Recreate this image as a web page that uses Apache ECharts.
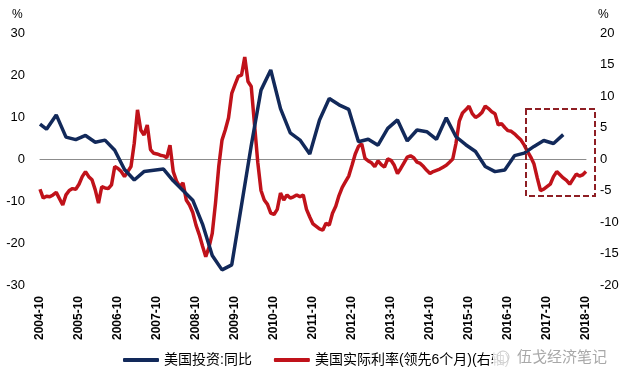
<!DOCTYPE html>
<html>
<head>
<meta charset="utf-8">
<script src="https://cdn.jsdelivr.net/npm/echarts@6/dist/echarts.min.js"></script>
<style>html,body{margin:0;padding:0;background:#fff;}#c{width:625px;height:381px;}</style>
</head>
<body>
<div id="c"></div>
<script>
// Monthly category axis: 2004-10 .. 2018-10
const startYear = 2004, startMonth = 10, monthCount = 169;
const categories = [];
for (let i = 0; i < monthCount; i++) {
  const t = (startMonth - 1) + i;
  const y = startYear + Math.floor(t / 12);
  const m = (t % 12) + 1;
  categories.push(y + '-' + (m < 10 ? '0' + m : m));
}

const seriesNames = ['美国投资:同比', '美国实际利率(领先6个月)(右轴)'];

// US investment YoY (quarterly, left axis)
const investDates = ['2004-10','2004-12','2005-03','2005-06','2005-09','2005-12','2006-03','2006-06','2006-09','2006-12',
  '2007-03','2007-06','2007-09','2007-12','2008-03','2008-06','2008-09','2008-12','2009-03','2009-06','2009-09','2009-12',
  '2010-03','2010-06','2010-09','2010-12','2011-03','2011-06','2011-09','2011-12','2012-03','2012-06','2012-09','2012-12',
  '2013-03','2013-06','2013-09','2013-12','2014-03','2014-06','2014-09','2014-12','2015-03','2015-06','2015-09','2015-12',
  '2016-03','2016-06','2016-09','2016-12','2017-03','2017-06','2017-09','2017-12','2018-03'];
const investValues = [8.3,7.1,10.5,5.2,4.6,5.6,4.0,4.5,2.1,-2.5,
  -5.0,-3.0,-2.7,-2.4,-5.2,-7.5,-9.8,-15.5,-23.0,-26.4,-25.2,-11.0,
  3.2,16.4,21.2,12.0,6.2,4.5,1.2,9.3,14.4,12.9,11.8,4.1,
  4.7,3.3,7.3,9.3,4.3,6.9,6.5,4.7,9.8,5.3,3.4,1.8,
  -1.8,-3.0,-2.6,0.8,1.4,3.0,4.4,3.7,5.8];

// US real interest rate, 6-month lead (monthly, right axis)
const rateValues = [
  -4.8,-6.2,-5.9,-6.0,-5.7,-5.3,-6.3,-7.3,-5.7,-5.0,-4.7,-4.8,
  -4.0,-2.8,-2.0,-2.8,-3.3,-4.9,-7.0,-4.4,-4.6,-4.7,-4.1,-1.2,
  -1.5,-2.0,-2.8,-2.0,-1.2,2.5,7.8,4.6,3.8,5.4,1.5,0.9,
  0.8,0.6,0.5,0.2,2.2,-2.0,-3.5,-4.4,-3.8,-6.5,-7.3,-8.5,
  -10.5,-12.0,-13.8,-15.5,-14.0,-11.8,-7.0,-1.2,3.0,4.6,6.5,10.4,
  11.8,13.1,13.3,16.2,12.3,11.5,5.5,-0.5,-5.0,-6.5,-7.2,-8.6,
  -8.8,-8.0,-5.4,-6.5,-5.7,-6.2,-6.0,-5.7,-6.0,-5.7,-8.0,-9.2,
  -10.3,-10.7,-11.1,-11.3,-10.2,-10.5,-8.6,-7.5,-5.8,-4.5,-3.6,-2.7,
  -1.0,0.8,2.0,2.4,0.1,-0.3,-0.6,-1.2,-0.3,-0.9,-1.3,0.0,
  -0.2,-1.0,-2.3,-1.5,-0.6,0.3,0.5,0.2,-0.5,-0.7,-1.2,-1.8,
  -2.3,-2.0,-1.8,-1.6,-1.3,-1.0,-0.5,0.0,2.5,6.0,7.3,7.8,
  8.4,7.2,6.6,6.9,7.4,8.4,8.0,7.5,7.2,5.4,5.6,5.0,
  4.5,4.4,4.0,3.5,3.0,2.2,1.2,0.3,-0.8,-3.0,-5.0,-4.8,
  -4.4,-4.0,-2.8,-2.0,-2.5,-3.0,-3.4,-4.0,-3.2,-2.4,-2.7,-2.5,
  -2.0];

const FONT = '"Liberation Sans", Arial, "Noto Sans CJK SC", sans-serif';
const BLUE = '#12295a';
const RED = '#c0121a';

const chart = echarts.init(document.getElementById('c'), null, {renderer: 'canvas'});
chart.setOption({
  backgroundColor: '#ffffff',
  animation: false,
  textStyle: {fontFamily: FONT},
  grid: {left: 40, right: 39, top: 33, bottom: 96, containLabel: false},
  legend: {
    data: seriesNames,
    orient: 'horizontal',
    left: 118, top: 348,
    icon: 'roundRect',
    itemWidth: 36, itemHeight: 4, itemGap: 22,
    textStyle: {fontSize: 14, color: '#000', fontFamily: FONT}
  },
  xAxis: [
    {
      type: 'category', data: categories, boundaryGap: false, position: 'bottom',
      axisLine: {show: false, onZero: false}, axisTick: {show: false},
      axisLabel: {interval: 11, rotate: 90, margin: 11, fontSize: 12, fontWeight: 'bold', color: '#000', fontFamily: FONT},
      splitLine: {show: false}
    },
    {
      type: 'category', data: categories, boundaryGap: false, position: 'bottom',
      axisLine: {show: true, onZero: true, onZeroAxisIndex: 0, lineStyle: {color: '#8c8c8c', width: 1}},
      axisTick: {show: false}, axisLabel: {show: false}, splitLine: {show: false}
    }
  ],
  yAxis: [
    {
      type: 'value', min: -30, max: 30, interval: 10, position: 'left',
      axisLine: {show: false}, axisTick: {show: false}, splitLine: {show: false},
      axisLabel: {fontSize: 13, color: '#000', margin: 15, fontFamily: FONT}
    },
    {
      type: 'value', min: -20, max: 20, interval: 5, position: 'right',
      axisLine: {show: false}, axisTick: {show: false}, splitLine: {show: false},
      axisLabel: {fontSize: 13, color: '#000', margin: 14, fontFamily: FONT}
    }
  ],
  series: [
    {
      name: seriesNames[0], type: 'line', xAxisIndex: 0, yAxisIndex: 0,
      data: investDates.map((d, i) => [d, investValues[i]]),
      symbol: 'none', smooth: false,
      lineStyle: {color: BLUE, width: 3.5}, itemStyle: {color: BLUE}, z: 3
    },
    {
      name: seriesNames[1], type: 'line', xAxisIndex: 0, yAxisIndex: 1,
      data: rateValues,
      symbol: 'none', smooth: false,
      lineStyle: {color: RED, width: 3.5}, itemStyle: {color: RED}, z: 2
    }
  ],
  graphic: [
    {type: 'text', left: 12, top: 9, style: {text: '%', fontSize: 12, fill: '#000', fontFamily: FONT}},
    {type: 'text', left: 598, top: 9, style: {text: '%', fontSize: 12, fill: '#000', fontFamily: FONT}},
    {type: 'rect', shape: {x: 526, y: 109, width: 69, height: 87},
      style: {fill: 'none', stroke: '#8e1f24', lineWidth: 2, lineDash: [6, 3]}, z: 10},
    {type: 'rect', shape: {x: 493, y: 346, width: 125, height: 22},
      style: {fill: 'rgba(255,255,255,0.85)'}, z: 20},
    {type: 'circle', shape: {cx: 503, cy: 357, r: 6},
      style: {fill: 'none', stroke: '#c8c8c8', lineWidth: 1}, z: 21},
    {type: 'text', left: 517, top: 349, z: 21,
      style: {text: '伍戈经济笔记', fontSize: 15, fill: '#a8a8a8', fontFamily: '"Noto Sans CJK SC", sans-serif'}}
  ]
});
</script>
</body>
</html>
